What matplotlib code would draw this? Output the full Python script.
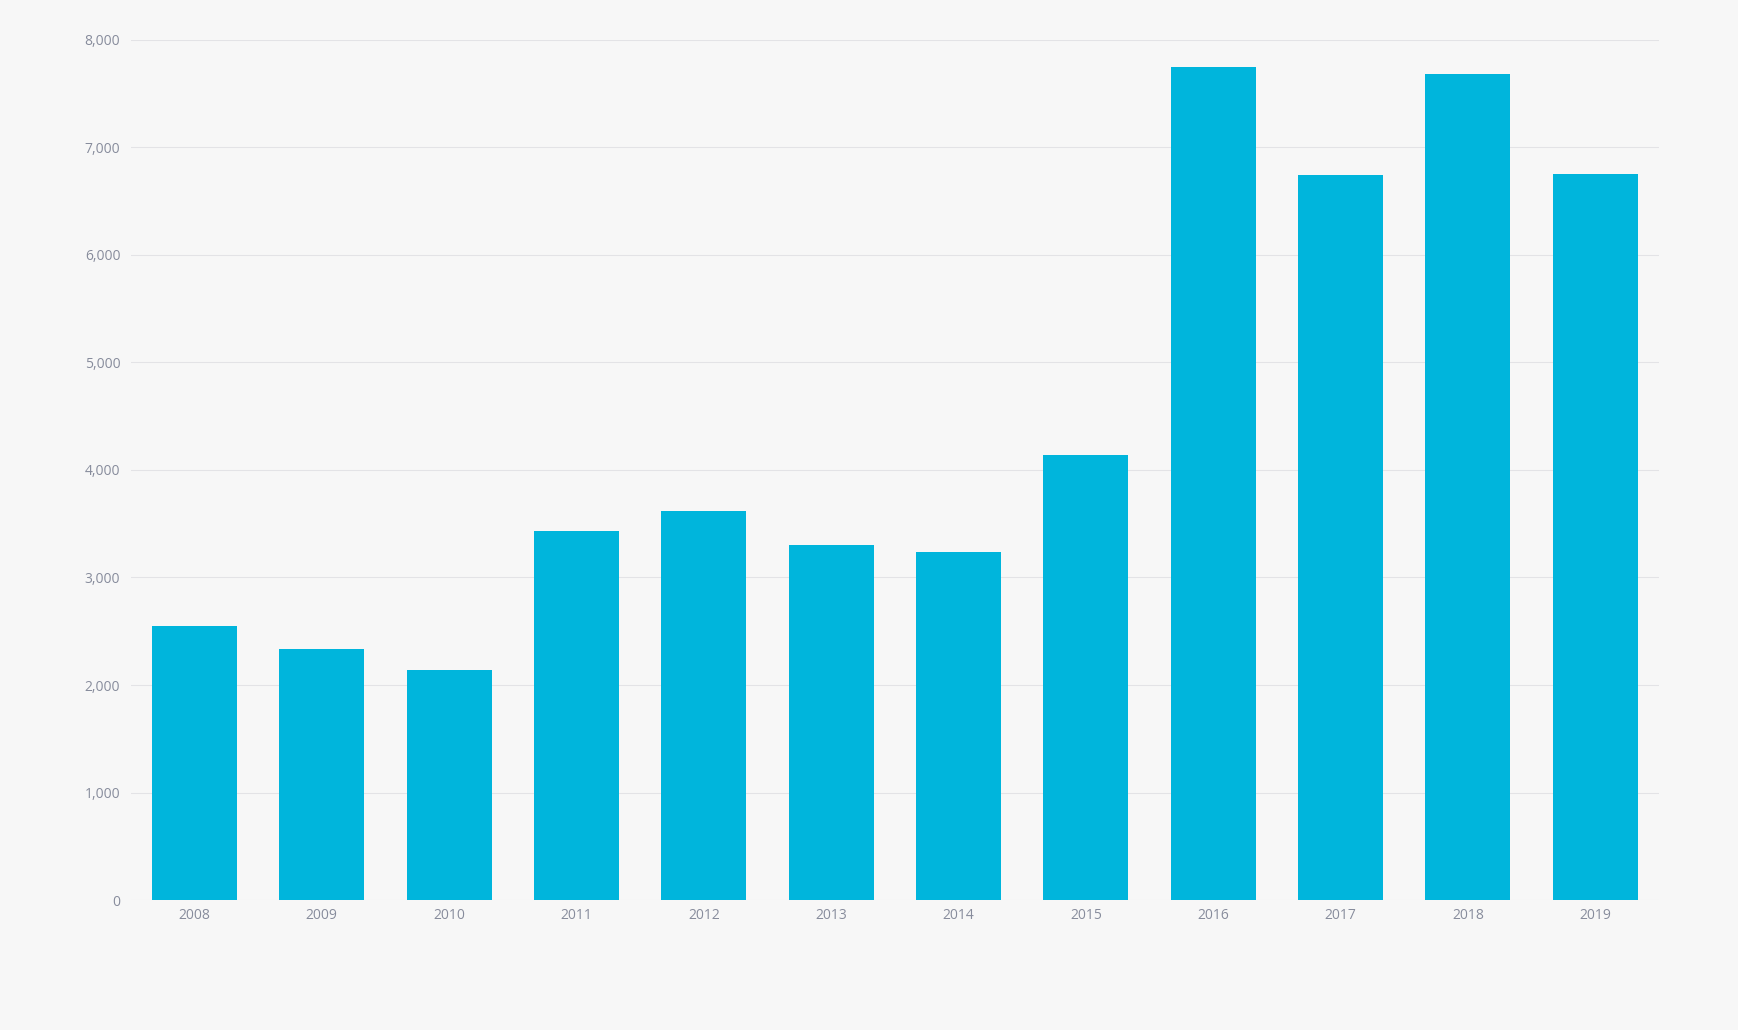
import matplotlib
matplotlib.use("Agg")
import matplotlib.pyplot as plt
from matplotlib.ticker import FuncFormatter

years = ["2008", "2009", "2010", "2011", "2012", "2013", "2014", "2015", "2016", "2017", "2018", "2019"]
values = [2545, 2339, 2143, 3433, 3620, 3302, 3236, 4141, 7747, 6745, 7682, 6753]
yticks = [0, 1000, 2000, 3000, 4000, 5000, 6000, 7000, 8000]

plt.rcParams['font.family'] = ['Open Sans', 'DejaVu Sans']

bg = "#f7f7f7"
fig = plt.figure(figsize=(17.38, 10.30), dpi=100, facecolor=bg)
ax = fig.add_axes([0.0752, 0.1262, 0.8793, 0.835])
ax.set_facecolor(bg)

x = list(range(len(years)))
ax.bar(x, values, width=0.667, color="#00b5dc", zorder=3)

ax.set_xlim(-0.5, len(years) - 0.5)
ax.set_ylim(0, 8000)
ax.set_yticks(yticks)
ax.yaxis.set_major_formatter(FuncFormatter(lambda v, p: f"{int(v):,}"))
ax.set_xticks(x)
ax.set_xticklabels(years)

ax.grid(axis='y', color="#e3e3e6", linewidth=0.75, zorder=0)
ax.grid(axis='x', visible=False)
for s in ax.spines.values():
    s.set_visible(False)

ax.tick_params(axis='both', length=0, labelsize=10, labelcolor="#878c9c")
ax.tick_params(axis='y', pad=7.5)
ax.tick_params(axis='x', pad=5.5)

fig.savefig("out.png", dpi=100, facecolor=bg)
